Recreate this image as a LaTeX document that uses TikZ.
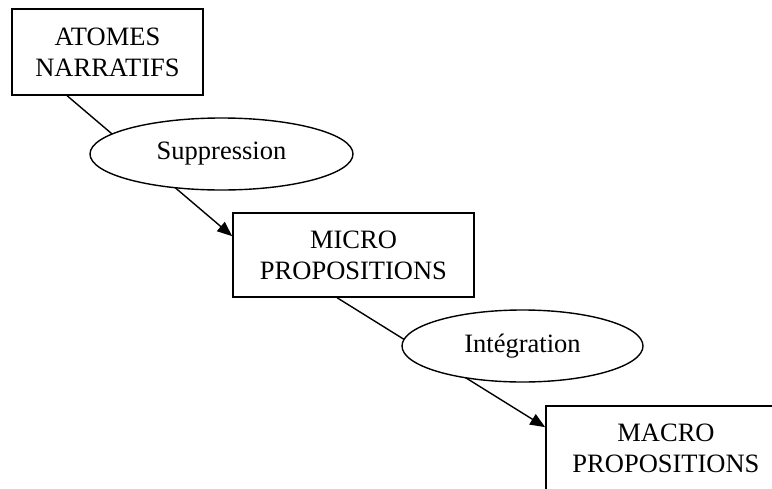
\documentclass[tikz,border=0pt]{standalone}
\usepackage{fontspec}
\setmainfont{Liberation Serif}
\usepackage{tikz}
\usetikzlibrary{shapes.geometric,arrows.meta}

\tikzset{
  etape/.style={draw, line width=1.6pt, align=center, inner sep=0pt,
    font=\fontsize{26.5}{31}\selectfont},
  operation/.style={draw, ellipse, fill=white, line width=1.4pt, inner sep=0pt,
    minimum height=72pt, font=\fontsize{26.5}{31}\selectfont},
  fleche/.style={line width=1.4pt, -{Triangle[length=15pt,width=12pt]}}
}

\begin{document}
\begin{tikzpicture}[x=1pt,y=-1pt]
  \clip (0,0) rectangle (772,488);

  \node[etape, minimum width=191pt, minimum height=86pt] (atomes) at (107.5,52) {ATOMES\\NARRATIFS};
  \node[etape, minimum width=241pt, minimum height=84pt] (micro) at (353.5,255) {MICRO\\PROPOSITIONS};
  \node[etape, minimum width=240pt, minimum height=84pt] (macro) at (666,448) {MACRO\\PROPOSITIONS};

  % les fleches passent sous les ellipses
  \draw[fleche] ([xshift=56pt]atomes.south west) -- ([yshift=-24pt]micro.north west);
  \draw[fleche] ([xshift=105pt]micro.south west) -- ([yshift=-22pt]macro.north west);

  \node[operation, minimum width=263pt] (suppression) at (221.5,154) {Suppression};
  \node[operation, minimum width=241pt] (integration) at (522.5,346) {Intégration};
\end{tikzpicture}
\end{document}
